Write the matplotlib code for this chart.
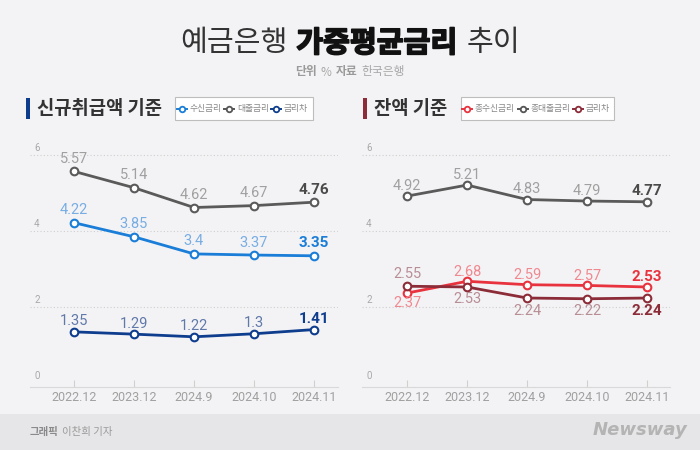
import matplotlib
matplotlib.use('Agg')
import matplotlib.pyplot as plt
import matplotlib.patheffects as pe
from matplotlib.lines import Line2D
from matplotlib.patches import Rectangle

plt.rcParams['font.family'] = ['Noto Sans CJK KR', 'DejaVu Sans']

# data
periods = ['2022.12', '2023.12', '2024.9', '2024.10', '2024.11']

new_deposit = [4.22, 3.85, 3.4, 3.37, 3.35]   # 수신금리
new_loan = [5.57, 5.14, 4.62, 4.67, 4.76]     # 대출금리
new_spread = [1.35, 1.29, 1.22, 1.3, 1.41]    # 금리차

bal_deposit = [2.37, 2.68, 2.59, 2.57, 2.53]  # 총수신금리
bal_loan = [4.92, 5.21, 4.83, 4.79, 4.77]     # 총대출금리
bal_spread = [2.55, 2.53, 2.24, 2.22, 2.24]   # 금리차

yticks = [0, 2, 4, 6]

W, H = 700, 450
BG = '#f3f3f5'
NUMFONT = ['Roboto', 'Noto Sans CJK KR']

fig = plt.figure(figsize=(7, 4.5), dpi=100)
fig.patch.set_facecolor(BG)


def fx(px):
    return px / W


def fy(py):
    return 1 - py / H


renderer = fig.canvas.get_renderer()


def rich_text(parts, x0, y, gap=4, center=False):
    # parts: (text, kwargs) placed one after another
    texts = [fig.text(0, fy(y), s, va='center', **kw) for s, kw in parts]
    widths = [t.get_window_extent(renderer).width for t in texts]
    total = sum(widths) + gap * (len(texts) - 1)
    x = x0 - total / 2 if center else x0
    for t, w in zip(texts, widths):
        t.set_x(fx(x))
        x += w + gap


# footer band
fig.patches.append(Rectangle((0, 0), 1, fy(414), transform=fig.transFigure,
                             facecolor='#e6e6e8', edgecolor='none', zorder=0))

# title
heavy = [pe.withStroke(linewidth=1.2, foreground='#111111')]
rich_text([('예금은행', dict(fontsize=21, fontweight='light', color='#333333')),
           ('가중평균금리', dict(fontsize=21, fontweight='bold', color='#111111',
                           path_effects=heavy)),
           ('추이', dict(fontsize=21, fontweight='light', color='#333333'))],
          350, 43, gap=9, center=True)
rich_text([('단위', dict(fontsize=8.5, fontweight='bold', color='#9a9a9a')),
           ('%', dict(fontsize=8.5, color='#a8a8a8')),
           ('자료', dict(fontsize=8.5, fontweight='bold', color='#9a9a9a')),
           ('한국은행', dict(fontsize=8.5, color='#a8a8a8'))],
          350, 72, gap=4, center=True)

# footer
rich_text([('그래픽', dict(fontsize=7.5, fontweight='bold', color='#8a8a8a')),
           ('이찬희 기자', dict(fontsize=7.5, color='#9a9a9a'))], 30, 432, gap=3)
fig.text(fx(640), fy(430), 'Newsway', fontsize=13, fontweight='bold', style='italic',
         color='#b4b4b4', ha='center', va='center', family='DejaVu Sans')


def header(x, text, color, legend_x0, legend_x1, items):
    fig.patches.append(Rectangle((fx(x), fy(119)), 4 / W, 21 / H, transform=fig.transFigure,
                                 facecolor=color, edgecolor='none'))
    fig.text(fx(x + 11), fy(108), text, fontsize=13.5, fontweight='bold', color='#333333',
             va='center')
    fig.patches.append(Rectangle((fx(legend_x0), fy(120)), (legend_x1 - legend_x0) / W, 23 / H,
                                 transform=fig.transFigure, facecolor='white',
                                 edgecolor='#bdbdbd', lw=0.8))
    for mx, label, c in items:
        fig.add_artist(Line2D([fx(mx - 5), fx(mx + 5)], [fy(109)] * 2, color=c, lw=1.4,
                              transform=fig.transFigure))
        fig.add_artist(Line2D([fx(mx)], [fy(109)], marker='o', ms=4, mfc='white', mec=c,
                              mew=1.3, transform=fig.transFigure))
        fig.text(fx(mx + 8), fy(109), label, fontsize=6.3, color='#888888', va='center')


header(26, '신규취급액 기준', '#0d3c8c', 175, 313,
       [(182, '수신금리', '#1a7dd7'), (229, '대출금리', '#555555'), (276, '금리차', '#0e3d8e')])
header(363, '잔액 기준', '#8c2c38', 461, 614,
       [(467, '총수신금리', '#e8333f'), (523, '총대출금리', '#555555'), (578, '금리차', '#8c2c38')])


def make_axes(left, right, xlim):
    ax = fig.add_axes([fx(left), fy(387), (right - left) / W, (387 - 117) / H])
    ax.set_facecolor('none')
    ax.set_xlim(*xlim)
    ax.set_ylim(-0.1, 7)
    for s in ['top', 'right', 'left']:
        ax.spines[s].set_visible(False)
    ax.spines['bottom'].set_color('#d8d8d8')
    ax.set_xticks(range(len(periods)))
    ax.set_xticklabels(periods, family=NUMFONT)
    ax.tick_params(axis='x', direction='in', length=5, color='#d0d0d0',
                   labelcolor='#a0a0a0', labelsize=9, pad=3)
    ax.set_yticks([])
    for v in yticks:
        if v > 0:
            ax.axhline(v, color='#cfcfcf', lw=0.8, ls=(0, (1, 2)), zorder=1)
        ax.annotate(str(v), (xlim[0], v), xytext=(3, 5), textcoords='offset points',
                    fontsize=7, color='#a8a8a8', va='center', ha='left', family=NUMFONT)
    return ax


def series(ax, values, color, label_color, last_color, offsets):
    x = range(len(values))
    ax.plot(x, values, color=color, lw=2, marker='o', ms=5.5, mfc='white', mec=color,
            mew=1.5, zorder=3, clip_on=False)
    for i, v in enumerate(values):
        last = i == len(values) - 1
        ax.annotate(str(v), (i, v), xytext=(0, offsets[i]), textcoords='offset points',
                    ha='center', va='center', family=NUMFONT,
                    fontsize=11 if last else 10.5,
                    fontweight='bold' if last else 'normal',
                    color=last_color if last else label_color)


axl = make_axes(30, 338, (-0.733, 4.4))
series(axl, new_loan, '#5a5a5a', '#a0a0a0', '#4a4a4a', [9] * 5)
series(axl, new_deposit, '#1a7dd7', '#78ade3', '#1a7dd7', [9] * 5)
series(axl, new_spread, '#0e3d8e', '#6079aa', '#0e3d8e', [7.5] * 5)

axr = make_axes(362, 670, (-0.75, 4.38))
series(axr, bal_loan, '#5a5a5a', '#a0a0a0', '#4a4a4a', [7.5] * 5)
series(axr, bal_deposit, '#e8333f', '#f08890', '#e8333f', [-7, 7, 7, 7, 7])
series(axr, bal_spread, '#8c2c38', '#b88e95', '#8c2c38', [8.5, -8.5, -9, -9, -9])

fig.savefig('out.png', dpi=100, facecolor=BG)
